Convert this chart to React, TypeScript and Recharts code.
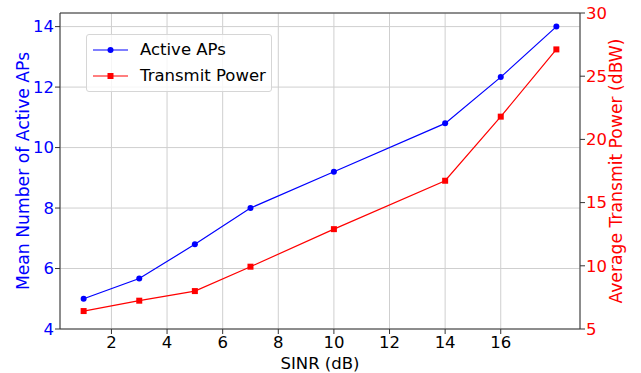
import { LineChart, Line, XAxis, YAxis, CartesianGrid, ReferenceLine } from "recharts";

const sinr = [1, 3, 5, 7, 10, 14, 16, 18];
const activeAps = [5.0, 5.67, 6.8, 8.0, 9.2, 10.8, 12.33, 14.0];
const transmitPower = [6.42, 7.24, 8.0, 9.93, 12.9, 16.73, 21.8, 27.12];

const xTicks = [2, 4, 6, 8, 10, 12, 14, 16];
const leftTicks = [4, 6, 8, 10, 12, 14];
const rightTicks = [5, 10, 15, 20, 25, 30];

const seriesNames = { aps: "Active APs", power: "Transmit Power" };

const data = sinr.map((x, i) => ({ x, aps: activeAps[i], power: transmitPower[i] }));

const FONT = "DejaVu Sans, sans-serif";
const BLUE = "#0000ff";
const RED = "#ff0000";

function SquareDot(props: any) {
  const { cx, cy, index } = props;
  if (cx == null || cy == null) return null;
  return <rect key={`sq-${index}`} x={cx - 3} y={cy - 3} width={6} height={6} fill={RED} />;
}

function RotatedLabel({ viewBox, text, color, x }: any) {
  const cy = viewBox.y + viewBox.height / 2;
  return (
    <text
      x={x}
      y={cy}
      transform={`rotate(-90, ${x}, ${cy})`}
      textAnchor="middle"
      dominantBaseline="central"
      fill={color}
      fontSize={17.2}
      fontFamily={FONT}
    >
      {text}
    </text>
  );
}

function LegendBox() {
  const row = (name: string, color: string, square: boolean, top: number) => (
    <div style={{ position: "absolute", left: 0, top, height: 26, width: 186 }}>
      <svg width={50} height={26} style={{ position: "absolute", left: 0, top: 0 }}>
        <line x1={6} x2={41} y1={13} y2={13} stroke={color} strokeWidth={1.2} />
        {square ? (
          <rect x={20.5} y={10} width={6} height={6} fill={color} />
        ) : (
          <circle cx={23.5} cy={13} r={3} fill={color} />
        )}
      </svg>
      <span
        style={{
          position: "absolute",
          left: 53,
          top: 0,
          lineHeight: "26px",
          fontSize: 16.5,
          fontFamily: FONT,
          color: "#000",
          whiteSpace: "nowrap",
        }}
      >
        {name}
      </span>
    </div>
  );
  return (
    <div
      style={{
        position: "absolute",
        left: 86,
        top: 34,
        width: 186,
        height: 58,
        border: "1px solid #d6d6d6",
        borderRadius: 3,
        background: "rgba(255,255,255,0.8)",
        boxSizing: "border-box",
      }}
    >
      {row(seriesNames.aps, BLUE, false, 2)}
      {row(seriesNames.power, RED, true, 28)}
    </div>
  );
}

export default function App() {
  return (
    <div style={{ position: "absolute", left: 0, top: 0, width: 641, height: 373, background: "#fff" }}>
      <LineChart width={641} height={373} data={data} margin={{ top: 13, right: 0, bottom: 0, left: 0 }}>
        <CartesianGrid yAxisId="left" stroke="#cfcfcf" strokeWidth={1} />
        <XAxis
          dataKey="x"
          type="number"
          domain={[0.15, 18.85]}
          ticks={xTicks}
          height={44}
          tickSize={5}
          tickMargin={2}
          stroke="#333"
          tick={{ fill: "#000", fontSize: 16.5, fontFamily: FONT }}
          label={{
            value: "SINR (dB)",
            position: "insideBottom",
            offset: 4,
            fill: "#000",
            fontSize: 16.5,
            fontFamily: FONT,
          }}
        />
        <YAxis
          yAxisId="left"
          orientation="left"
          type="number"
          domain={[4, 14.45]}
          ticks={leftTicks}
          width={60}
          tickSize={5}
          tickMargin={1}
          stroke="#333"
          tick={{ fill: BLUE, fontSize: 16.5, fontFamily: FONT }}
          label={(p: any) => <RotatedLabel {...p} text="Mean Number of Active APs" color={BLUE} x={22.5} />}
        />
        <YAxis
          yAxisId="right"
          orientation="right"
          type="number"
          domain={[5, 30]}
          ticks={rightTicks}
          width={61}
          tickSize={5}
          tickMargin={1}
          stroke="#333"
          tick={{ fill: RED, fontSize: 16.5, fontFamily: FONT }}
          label={(p: any) => <RotatedLabel {...p} text="Average Transmit Power (dBW)" color={RED} x={616} />}
        />
        <ReferenceLine yAxisId="left" y={14.45} stroke="#333" strokeWidth={1} />
        <Line
          yAxisId="left"
          dataKey="aps"
          name={seriesNames.aps}
          type="linear"
          stroke={BLUE}
          strokeWidth={1.2}
          dot={{ r: 3, fill: BLUE, stroke: BLUE, strokeWidth: 0 }}
          activeDot={false}
          isAnimationActive={false}
        />
        <Line
          yAxisId="right"
          dataKey="power"
          name={seriesNames.power}
          type="linear"
          stroke={RED}
          strokeWidth={1.2}
          dot={(p: any) => <SquareDot key={`sq-${p.index}`} {...p} />}
          activeDot={false}
          isAnimationActive={false}
        />
      </LineChart>
      <LegendBox />
    </div>
  );
}
